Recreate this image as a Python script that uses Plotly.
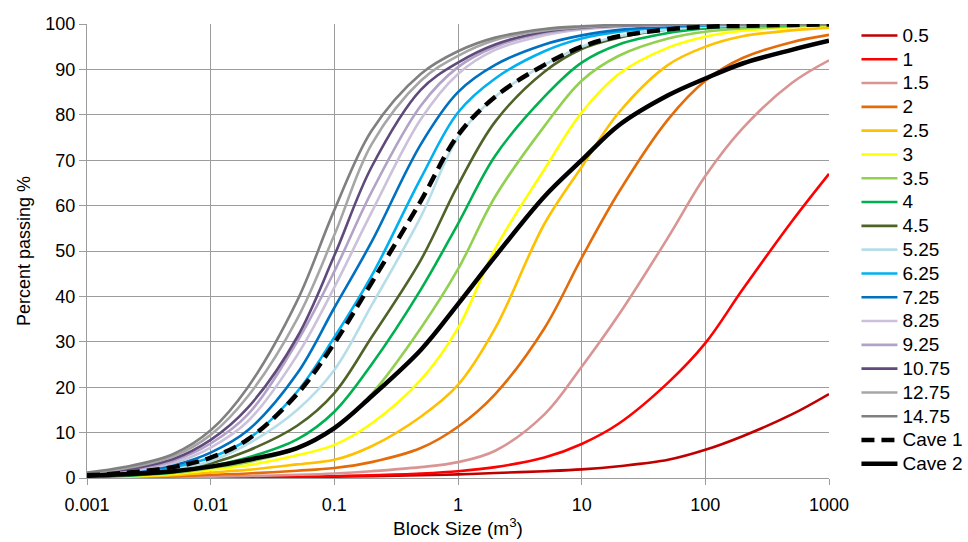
import plotly.graph_objects as go

# Block sizes (m^3) at which each grading curve is sampled
block_size = [0.001, 0.002, 0.005, 0.01, 0.02, 0.05, 0.1, 0.2, 0.5, 1, 2, 5,
              10, 20, 50, 100, 200, 500, 1000]

# Percent passing for each curve
p_0_5 = [0.0, 0.02, 0.05, 0.1, 0.15, 0.2, 0.3, 0.4, 0.6, 0.8, 1.1, 1.5, 1.9, 2.6, 4.0, 6.2, 9.2, 14.0, 18.5]
p_1 = [0.0, 0.03, 0.06, 0.1, 0.15, 0.25, 0.4, 0.6, 1.0, 1.5, 2.4, 4.5, 7.5, 12.0, 21.0, 29.7, 41.5, 56.5, 67.0]
p_1_5 = [0.0, 0.1, 0.2, 0.3, 0.45, 0.7, 1.0, 1.5, 2.4, 3.5, 6.0, 14.0, 24.5, 36.0, 53.0, 66.5, 77.0, 87.0, 92.0]
p_2 = [0.05, 0.15, 0.35, 0.7, 1.0, 1.6, 2.2, 3.5, 6.6, 11.3, 18.5, 33.0, 48.5, 63.0, 79.0, 87.5, 92.5, 96.0, 97.6]
p_2_5 = [0.1, 0.2, 0.6, 1.2, 1.8, 3.0, 4.0, 7.0, 13.5, 20.5, 33.0, 56.0, 68.5, 80.5, 91.0, 95.0, 97.3, 98.6, 99.2]
p_3 = [0.15, 0.35, 0.9, 1.8, 2.8, 5.0, 7.3, 12.0, 21.6, 33.0, 50.5, 68.0, 80.5, 89.0, 94.8, 97.2, 98.5, 99.3, 99.6]
p_3_5 = [0.2, 0.45, 1.1, 2.2, 3.5, 6.5, 11.0, 18.5, 33.0, 46.0, 62.0, 77.5, 87.5, 93.0, 96.8, 98.3, 99.0, 99.5, 99.8]
p_4 = [0.25, 0.5, 1.3, 2.6, 4.5, 8.5, 14.6, 25.0, 41.5, 56.0, 71.0, 84.0, 91.5, 95.5, 98.0, 99.0, 99.5, 99.8, 100.0]
p_4_5 = [0.3, 0.6, 1.6, 3.2, 6.0, 11.5, 18.7, 31.0, 48.0, 64.5, 78.5, 89.5, 94.5, 97.0, 98.8, 99.4, 99.7, 99.9, 100.0]
p_5_25 = [0.4, 0.8, 1.9, 3.7, 7.5, 15.0, 23.8, 38.0, 57.5, 75.0, 84.0, 91.0, 95.0, 97.3, 98.8, 99.4, 99.7, 99.9, 100.0]
p_6_25 = [0.5, 1.1, 2.4, 4.5, 8.5, 19.0, 31.0, 44.5, 66.0, 80.5, 88.0, 94.0, 96.8, 98.3, 99.3, 99.7, 99.9, 100.0, 100.0]
p_7_25 = [0.6, 1.2, 2.8, 5.6, 10.5, 23.0, 37.5, 52.0, 73.5, 85.0, 91.0, 95.5, 97.5, 98.7, 99.5, 99.8, 99.9, 100.0, 100.0]
p_8_25 = [0.7, 1.4, 3.3, 6.7, 12.5, 27.0, 42.0, 58.5, 79.0, 89.0, 94.3, 97.5, 98.8, 99.4, 99.8, 99.9, 100.0, 100.0, 100.0]
p_9_25 = [0.8, 1.6, 3.8, 7.6, 14.0, 30.0, 45.5, 63.0, 82.0, 90.5, 95.0, 98.0, 99.0, 99.5, 99.8, 99.9, 100.0, 100.0, 100.0]
p_10_75 = [0.9, 1.8, 4.2, 8.4, 15.5, 31.0, 49.0, 68.5, 85.5, 91.5, 95.5, 98.3, 99.2, 99.6, 99.9, 100.0, 100.0, 100.0, 100.0]
p_12_75 = [1.0, 2.1, 4.8, 9.5, 18.0, 35.0, 53.5, 73.5, 87.5, 93.0, 96.5, 98.6, 99.3, 99.7, 99.9, 100.0, 100.0, 100.0, 100.0]
p_14_75 = [1.2, 2.4, 5.3, 10.5, 20.0, 39.0, 59.0, 76.5, 89.0, 94.0, 97.0, 98.9, 99.5, 99.8, 99.9, 100.0, 100.0, 100.0, 100.0]
cave_1 = [0.6, 1.1, 2.4, 4.5, 8.5, 18.5, 29.7, 43.0, 61.0, 75.5, 84.0, 91.0, 95.0, 97.3, 98.8, 99.4, 99.6, 99.8, 99.9]
cave_2 = [0.5, 0.8, 1.5, 2.5, 4.0, 6.6, 11.0, 18.0, 28.2, 38.3, 48.8, 62.0, 70.0, 77.7, 84.3, 88.0, 91.3, 94.3, 96.3]

names = ["0.5", "1", "1.5", "2", "2.5", "3", "3.5", "4", "4.5", "5.25",
         "6.25", "7.25", "8.25", "9.25", "10.75", "12.75", "14.75"]
curves = [p_0_5, p_1, p_1_5, p_2, p_2_5, p_3, p_3_5, p_4, p_4_5, p_5_25,
          p_6_25, p_7_25, p_8_25, p_9_25, p_10_75, p_12_75, p_14_75]
colors = ["#c00000", "#ff0000", "#d99594", "#e36c09", "#ffc000", "#ffff00",
          "#92d050", "#00b050", "#4f6228", "#b7dee8", "#00b0f0", "#0070c0",
          "#ccc1da", "#b3a2c7", "#604a7b", "#a6a6a6", "#808080"]

x_ticks = [0.001, 0.01, 0.1, 1, 10, 100, 1000]
x_tick_text = ["0.001", "0.01", "0.1", "1", "10", "100", "1000"]
y_ticks = list(range(0, 101, 10))

font_family = "Liberation Sans, Arial, Helvetica, sans-serif"
grid_col = "#9c9c9c"


def legend_label(text):
    # legend rows keep a 16px pitch while the label glyphs are drawn larger
    return '<span style="font-size:19px">' + text + "</span>"


fig = go.Figure()
for name, vals, col in zip(names, curves, colors):
    fig.add_trace(go.Scatter(
        x=block_size, y=vals, name=legend_label(name), mode="lines",
        line=dict(color=col, width=2.6, shape="spline", smoothing=1.0),
    ))

fig.add_trace(go.Scatter(
    x=block_size, y=cave_1, name=legend_label("Cave 1"), mode="lines",
    line=dict(color="black", width=4.5, dash="13px,7px", shape="spline", smoothing=1.0),
))
fig.add_trace(go.Scatter(
    x=block_size, y=cave_2, name=legend_label("Cave 2"), mode="lines",
    line=dict(color="black", width=4.5, shape="spline", smoothing=1.0),
))

fig.update_layout(
    width=968, height=542,
    margin=dict(l=87, r=139, t=24, b=64, autoexpand=False),
    paper_bgcolor="white", plot_bgcolor="white",
    font=dict(family=font_family, size=18, color="black"),
    showlegend=True,
    legend=dict(
        x=1.037, y=1.012, xanchor="left", yanchor="top",
        font=dict(family=font_family, size=16, color="black"),
        bgcolor="rgba(0,0,0,0)", borderwidth=0, tracegroupgap=0,
        itemwidth=36, maxheight=530,
    ),
)

fig.update_xaxes(
    type="log", range=[-3, 3],
    tickvals=x_ticks, ticktext=x_tick_text,
    tickfont=dict(family=font_family, size=18),
    showgrid=True, gridcolor=grid_col, gridwidth=1,
    showline=True, linecolor=grid_col, linewidth=1, mirror=False,
    ticks="outside", ticklen=6, tickcolor=grid_col, ticklabelstandoff=4,
    zeroline=False, automargin=False,
    title=dict(text="Block Size (m<sup>3</sup>)", standoff=8,
               font=dict(family=font_family, size=19)),
)
fig.update_yaxes(
    range=[0, 100], tickvals=y_ticks,
    tickfont=dict(family=font_family, size=18),
    showgrid=True, gridcolor=grid_col, gridwidth=1,
    showline=True, linecolor=grid_col, linewidth=1,
    ticks="outside", ticklen=7, tickcolor=grid_col,
    zeroline=False, automargin=False,
    title=dict(text="Percent passing %", standoff=10,
               font=dict(family=font_family, size=18)),
)

fig.write_html("out.html")
